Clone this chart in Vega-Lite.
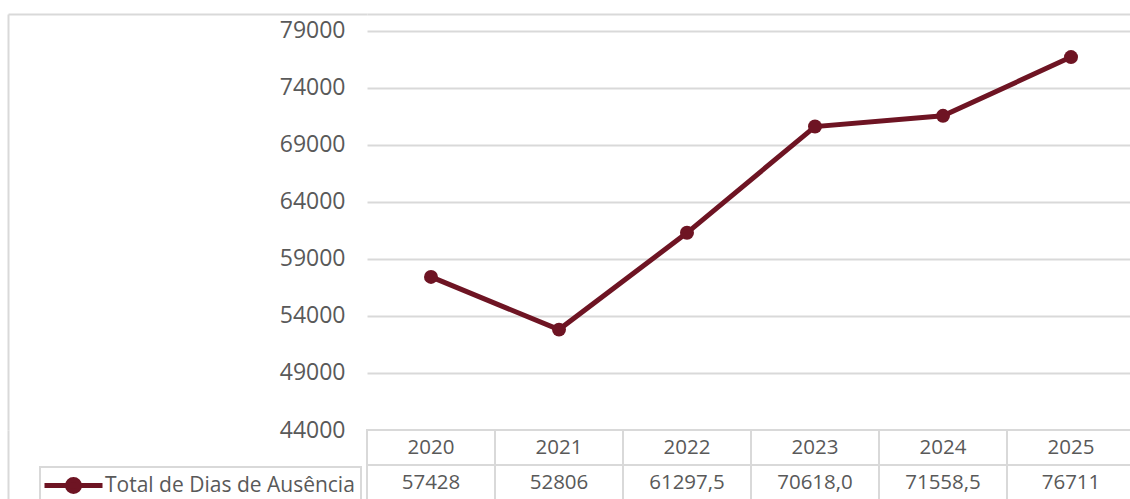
{
  "$schema": "https://vega.github.io/schema/vega-lite/v6.json",
  "background": "white",
  "padding": {"left": 7, "top": 13, "right": 0, "bottom": 0},
  "autosize": {"type": "pad"},
  "bounds": "flush",
  "spacing": 0,
  "config": {
    "view": {"stroke": null},
    "font": "Open Sans",
    "legend": {"strokeWidth": 2}
  },
  "datasets": {
    "d": [
      {"ano": "2020", "valor": 57428, "rotulo": "57428", "serie": "Total de Dias de Ausência"},
      {"ano": "2021", "valor": 52806, "rotulo": "52806", "serie": "Total de Dias de Ausência"},
      {"ano": "2022", "valor": 61297.5, "rotulo": "61297,5", "serie": "Total de Dias de Ausência"},
      {"ano": "2023", "valor": 70618.0, "rotulo": "70618,0", "serie": "Total de Dias de Ausência"},
      {"ano": "2024", "valor": 71558.5, "rotulo": "71558,5", "serie": "Total de Dias de Ausência"},
      {"ano": "2025", "valor": 76711, "rotulo": "76711", "serie": "Total de Dias de Ausência"}
    ]
  },
  "vconcat": [
    {
      "width": 768,
      "height": 416,
      "data": {"name": "d"},
      "encoding": {
        "x": {"field": "ano", "type": "ordinal", "scale": {"type": "point", "padding": 0.5}, "axis": null},
        "y": {
          "field": "valor",
          "type": "quantitative",
          "scale": {"domain": [44000, 80491], "nice": false, "zero": false},
          "axis": {
            "values": [44000, 49000, 54000, 59000, 64000, 69000, 74000, 79000, 80491],
            "offset": 359,
            "domain": true,
            "domainColor": "#d9d9d9",
            "domainWidth": 2,
            "ticks": true,
            "tickSize": -359,
            "tickColor": "#d9d9d9",
            "tickWidth": 2,
            "tickOpacity": {"condition": {"test": "datum.value > 80000", "value": 1}, "value": 0},
            "labelPadding": 22,
            "labelExpr": "datum.value > 80000 ? '' : datum.value",
            "labelFontSize": 23,
            "labelColor": "#595959",
            "labelFont": "Open Sans",
            "grid": true,
            "gridColor": "#d9d9d9",
            "gridWidth": 2,
            "title": null
          }
        }
      },
      "layer": [
        {
          "mark": {"type": "line", "strokeWidth": 5},
          "encoding": {
            "color": {
              "field": "serie",
              "type": "nominal",
              "scale": {"range": ["#6e1423"]},
              "legend": {
                "orient": "none",
                "legendX": -327,
                "legendY": 453,
                "title": null,
                "symbolType": "M-2.9,0H2.9M-0.6,0A0.6,0.6,0,1,1,0.6,0A0.6,0.6,0,1,1,-0.6,0Z",
                "symbolSize": 400,
                "symbolStrokeWidth": 5,
                "symbolStrokeColor": "#6e1423",
                "symbolFillColor": "#6e1423",
                "symbolOffset": 15,
                "labelOffset": 19,
                "labelExpr": "datum.label + '  '",
                "labelFontSize": 21,
                "labelFont": "Open Sans",
                "labelColor": "#595959",
                "labelLimit": 400,
                "strokeColor": "#d9d9d9",
                "padding": 6
              }
            }
          }
        },
        {
          "mark": {"type": "point", "filled": true, "size": 195, "opacity": 1, "color": "#6e1423"}
        }
      ]
    },
    {
      "width": 768,
      "height": 70,
      "data": {"name": "d"},
      "transform": [{"fold": ["ano", "rotulo"], "as": ["linha", "texto"]}],
      "encoding": {
        "x": {"field": "ano", "type": "ordinal", "scale": {"paddingInner": 0, "paddingOuter": 0}, "axis": null},
        "y": {
          "field": "linha",
          "type": "nominal",
          "scale": {"domain": ["ano", "rotulo"], "paddingInner": 0, "paddingOuter": 0},
          "axis": {
            "offset": 359,
            "domain": true,
            "domainColor": "#d9d9d9",
            "domainWidth": 2,
            "labels": false,
            "ticks": false,
            "grid": false,
            "title": null
          }
        }
      },
      "layer": [
        {"mark": {"type": "rect", "fill": "white", "stroke": "#d9d9d9", "strokeWidth": 2}},
        {
          "mark": {"type": "text", "fontSize": 20.5, "color": "#595959", "font": "Open Sans"},
          "encoding": {"text": {"field": "texto", "type": "nominal"}}
        }
      ]
    }
  ]
}
